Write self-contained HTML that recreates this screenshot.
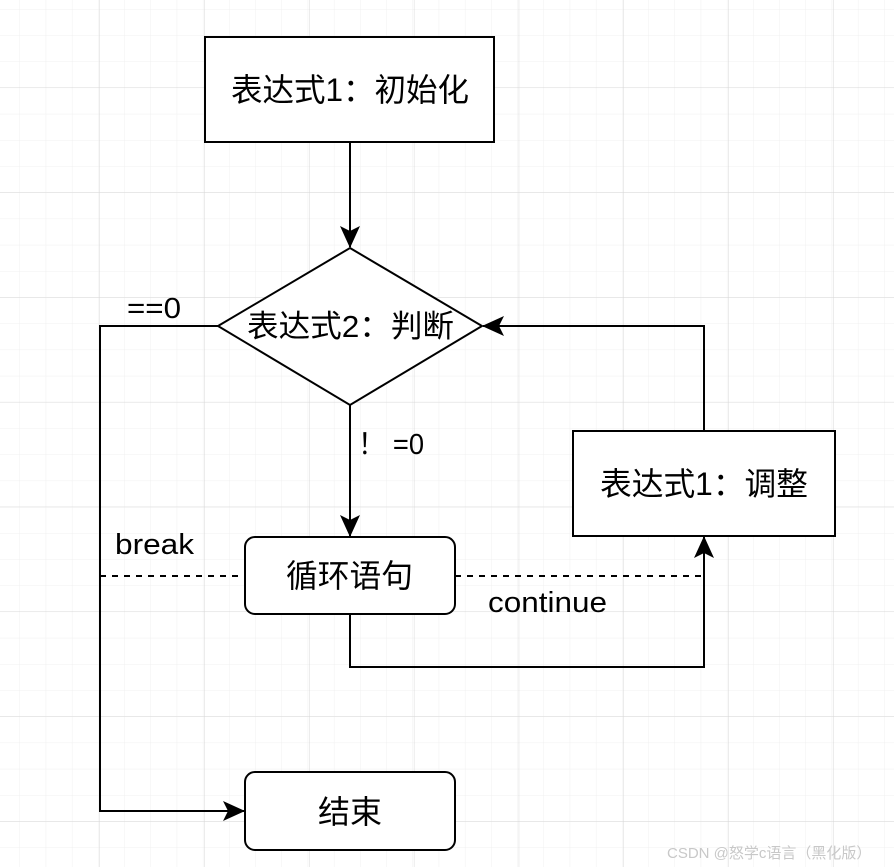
<!DOCTYPE html>
<html><head><meta charset="utf-8"><style>
html,body{margin:0;padding:0;background:#fff;}
svg{display:block;}
text{font-family:"Liberation Sans","Noto Sans CJK SC",sans-serif;fill:#000;}
</style></head><body>
<svg width="894" height="867" viewBox="0 0 894 867" xmlns="http://www.w3.org/2000/svg">
<defs>
<pattern id="minor" x="-6.2" y="9" width="26.2" height="26.2" patternUnits="userSpaceOnUse">
<path d="M26.2 0V26.2M0 0H26.2" stroke="#f0f0f0" stroke-width="1" fill="none"/>
</pattern>
<pattern id="major" x="-4.8" y="-16.8" width="104.8" height="104.8" patternUnits="userSpaceOnUse">
<path d="M104.8 0V104.8M0 104.8H104.8" stroke="#d8d8d8" stroke-width="1" fill="none"/>
</pattern>
<marker id="ar" markerWidth="24" markerHeight="22" refX="21" refY="11" orient="auto" markerUnits="userSpaceOnUse">
<path d="M0 1L22 11L0 21L5 11Z" fill="#000"/>
</marker>
</defs>
<rect width="894" height="867" fill="url(#minor)"/>
<rect width="894" height="867" fill="url(#major)"/>
<g stroke="#000" stroke-width="2" fill="none">
<rect x="205" y="37" width="289" height="105" fill="#fff"/>
<polygon points="350,248 482,326 350,405 218,326" fill="#fff"/>
<rect x="245" y="537" width="210" height="77" rx="10" fill="#fff"/>
<rect x="573" y="431" width="262" height="105" fill="#fff"/>
<rect x="245" y="772" width="210" height="78" rx="10" fill="#fff"/>
<path d="M350 142V247" marker-end="url(#ar)"/>
<path d="M350 405V536" marker-end="url(#ar)"/>
<path d="M218 326H100V811H244" marker-end="url(#ar)"/>
<path d="M704 431V326H483" marker-end="url(#ar)"/>
<path d="M350 614V667H704V537" marker-end="url(#ar)"/>
<path d="M100 576H245" stroke-dasharray="6 6"/>
<path d="M455 576H704" stroke-dasharray="6 6"/>
</g>
<text x="231" y="101" font-size="32" textLength="238" lengthAdjust="spacingAndGlyphs">表达式1：初始化</text>
<text x="247" y="337" font-size="31" textLength="207" lengthAdjust="spacingAndGlyphs">表达式2：判断</text>
<text x="286" y="587" font-size="32" textLength="127" lengthAdjust="spacingAndGlyphs">循环语句</text>
<text x="600" y="495" font-size="32" textLength="208" lengthAdjust="spacingAndGlyphs">表达式1：调整</text>
<text x="318" y="823" font-size="32" textLength="64" lengthAdjust="spacingAndGlyphs">结束</text>
<text x="127" y="318" font-size="29" textLength="54" lengthAdjust="spacingAndGlyphs">==0</text>
<text x="358" y="454" font-size="29" textLength="66" lengthAdjust="spacingAndGlyphs">！ =0</text>
<text x="115" y="554" font-size="29" textLength="79" lengthAdjust="spacingAndGlyphs">break</text>
<text x="488" y="612" font-size="29" textLength="119" lengthAdjust="spacingAndGlyphs">continue</text>
<text x="667" y="858" font-size="15" style="fill:#c8c8c8">CSDN @怒学c语言（黑化版）</text>
</svg>
</body></html>
